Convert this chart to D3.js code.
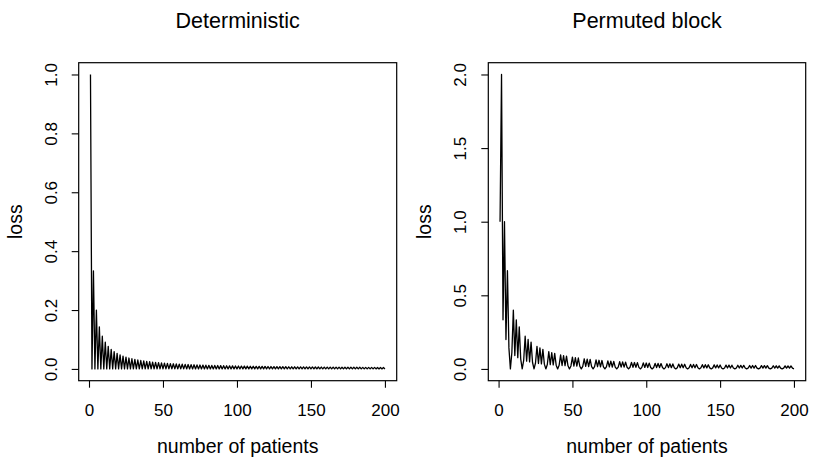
<!DOCTYPE html>
<html>
<head>
<meta charset="utf-8">
<script src="https://cdn.jsdelivr.net/npm/d3@7/dist/d3.min.js"></script>
<style>
  body { margin: 0; background: #fff; }
  svg { display: block; }
  text { font-family: "Liberation Sans", Arial, Helvetica, sans-serif; fill: #000; }
</style>
</head>
<body>
<svg id="chart" width="814" height="464"></svg>
<script>
// number of patients, 1..200
const patients = d3.range(1, 201);

// loss, deterministic allocation
const lossDeterministic = [
  1, 0, 0.3333, 0, 0.2, 0, 0.1429, 0, 0.1111, 0,
  0.0909, 0, 0.0769, 0, 0.0667, 0, 0.0588, 0, 0.0526, 0,
  0.0476, 0, 0.0435, 0, 0.04, 0, 0.037, 0, 0.0345, 0,
  0.0323, 0, 0.0303, 0, 0.0286, 0, 0.027, 0, 0.0256, 0,
  0.0244, 0, 0.0233, 0, 0.0222, 0, 0.0213, 0, 0.0204, 0,
  0.0196, 0, 0.0189, 0, 0.0182, 0, 0.0175, 0, 0.0169, 0,
  0.0164, 0, 0.0159, 0, 0.0154, 0, 0.0149, 0, 0.0145, 0,
  0.0141, 0, 0.0137, 0, 0.0133, 0, 0.013, 0, 0.0127, 0,
  0.0123, 0, 0.012, 0, 0.0118, 0, 0.0115, 0, 0.0112, 0,
  0.011, 0, 0.0108, 0, 0.0105, 0, 0.0103, 0, 0.0101, 0,
  0.0099, 0, 0.0097, 0, 0.0095, 0, 0.0093, 0, 0.0092, 0,
  0.009, 0, 0.0088, 0, 0.0087, 0, 0.0085, 0, 0.0084, 0,
  0.0083, 0, 0.0081, 0, 0.008, 0, 0.0079, 0, 0.0078, 0,
  0.0076, 0, 0.0075, 0, 0.0074, 0, 0.0073, 0, 0.0072, 0,
  0.0071, 0, 0.007, 0, 0.0069, 0, 0.0068, 0, 0.0067, 0,
  0.0066, 0, 0.0065, 0, 0.0065, 0, 0.0064, 0, 0.0063, 0,
  0.0062, 0, 0.0061, 0, 0.0061, 0, 0.006, 0, 0.0059, 0,
  0.0058, 0, 0.0058, 0, 0.0057, 0, 0.0056, 0, 0.0056, 0,
  0.0055, 0, 0.0055, 0, 0.0054, 0, 0.0053, 0, 0.0053, 0,
  0.0052, 0, 0.0052, 0, 0.0051, 0, 0.0051, 0, 0.005, 0
];

// loss, permuted block allocation
const lossPermuted = [
  1, 2, 0.3333, 1, 0.2, 0.6667, 0.1429, 0, 0.1111, 0.4,
  0.0909, 0.3333, 0.0769, 0.2857, 0.0667, 0, 0.0588, 0.2222, 0.0526, 0.2,
  0.0476, 0.1818, 0.0435, 0, 0.04, 0.1538, 0.037, 0.1429, 0.0345, 0.1333,
  0.0323, 0, 0.0303, 0.1176, 0.0286, 0.1111, 0.027, 0.1053, 0.0256, 0,
  0.0244, 0.0952, 0.0233, 0.0909, 0.0222, 0.087, 0.0213, 0, 0.0204, 0.08,
  0.0196, 0.0769, 0.0189, 0.0741, 0.0182, 0, 0.0175, 0.069, 0.0169, 0.0667,
  0.0164, 0.0645, 0.0159, 0, 0.0154, 0.0606, 0.0149, 0.0588, 0.0145, 0.0571,
  0.0141, 0, 0.0137, 0.0541, 0.0133, 0.0526, 0.013, 0.0513, 0.0127, 0,
  0.0123, 0.0488, 0.012, 0.0476, 0.0118, 0.0465, 0.0115, 0, 0.0112, 0.0444,
  0.011, 0.0435, 0.0108, 0.0426, 0.0105, 0, 0.0103, 0.0408, 0.0101, 0.04,
  0.0099, 0.0392, 0.0097, 0, 0.0095, 0.0377, 0.0093, 0.037, 0.0092, 0.0364,
  0.009, 0, 0.0088, 0.0351, 0.0087, 0.0345, 0.0085, 0.0339, 0.0084, 0,
  0.0083, 0.0328, 0.0081, 0.0323, 0.008, 0.0317, 0.0079, 0, 0.0078, 0.0308,
  0.0076, 0.0303, 0.0075, 0.0299, 0.0074, 0, 0.0073, 0.029, 0.0072, 0.0286,
  0.0071, 0.0282, 0.007, 0, 0.0069, 0.0274, 0.0068, 0.027, 0.0067, 0.0267,
  0.0066, 0, 0.0065, 0.026, 0.0065, 0.0256, 0.0064, 0.0253, 0.0063, 0,
  0.0062, 0.0247, 0.0061, 0.0244, 0.0061, 0.0241, 0.006, 0, 0.0059, 0.0235,
  0.0058, 0.0233, 0.0058, 0.023, 0.0057, 0, 0.0056, 0.0225, 0.0056, 0.0222,
  0.0055, 0.022, 0.0055, 0, 0.0054, 0.0215, 0.0053, 0.0213, 0.0053, 0.0211,
  0.0052, 0, 0.0052, 0.0206, 0.0051, 0.0204, 0.0051, 0.0202, 0.005, 0
];

const xTicks = [0, 50, 100, 150, 200];
const yTicksDeterministic = [0, 0.2, 0.4, 0.6, 0.8, 1.0];
const yTicksPermuted = [0, 0.5, 1.0, 1.5, 2.0];

const titles = ['Deterministic', 'Permuted block'];
const xLabel = 'number of patients';
const yLabel = 'loss';

const svg = d3.select('#chart');

const tickFont = 17,
    labFont = 19.5,
    mainFont = 21.5;

// R style 4% padding on both axes
function padded(lo, hi) {
    let d = (hi - lo) * 0.04;
    return [lo - d, hi + d];
}

function drawPanel(box, values, yMax, yTicks, title) {
    let x = d3.scaleLinear().domain(padded(1, 200)).range([box.left, box.right]),
        y = d3.scaleLinear().domain(padded(0, yMax)).range([box.bottom, box.top]),
        cx = (box.left + box.right) / 2,
        cy = (box.top + box.bottom) / 2,
        g = svg.append('g');

    let line = d3.line()
        .x((d, i) => x(patients[i]))
        .y(d => y(d));

    g.append('path')
        .datum(values)
        .attr('d', line)
        .attr('fill', 'none')
        .attr('stroke', '#000')
        .attr('stroke-width', 1.3)
        .attr('stroke-linejoin', 'round');

    // x axis
    let xAxis = g.append('g')
        .attr('transform', `translate(0, ${box.bottom})`)
        .call(d3.axisBottom(x).tickValues(xTicks).tickSize(7).tickSizeOuter(0).tickPadding(10));
    xAxis.select('.domain').remove();
    xAxis.selectAll('line').attr('stroke', '#000').attr('stroke-width', 1.1);
    xAxis.selectAll('text')
        .attr('font-size', tickFont)
        .attr('font-family', null)
        .attr('y', 29)
        .attr('dy', '0.35em');

    // y axis, labels parallel to axis
    let yAxis = g.append('g')
        .attr('transform', `translate(${box.left}, 0)`)
        .call(d3.axisLeft(y).tickValues(yTicks).tickFormat(d3.format('.1f')).tickSize(7).tickSizeOuter(0));
    yAxis.select('.domain').remove();
    yAxis.selectAll('line').attr('stroke', '#000').attr('stroke-width', 1.1);
    yAxis.selectAll('text')
        .attr('font-size', tickFont)
        .attr('font-family', null)
        .attr('text-anchor', 'middle')
        .attr('transform', 'rotate(-90)')
        .attr('x', 0)
        .attr('y', -28)
        .attr('dy', '0.35em');

    // box
    g.append('rect')
        .attr('x', box.left)
        .attr('y', box.top)
        .attr('width', box.right - box.left)
        .attr('height', box.bottom - box.top)
        .attr('fill', 'none')
        .attr('stroke', '#000')
        .attr('stroke-width', 1.2);

    g.append('text')
        .attr('x', cx)
        .attr('y', 446)
        .attr('dy', '0.35em')
        .attr('text-anchor', 'middle')
        .attr('font-size', labFont)
        .text(xLabel);

    g.append('text')
        .attr('transform', `translate(${box.left - 64}, ${cy}) rotate(-90)`)
        .attr('dy', '0.35em')
        .attr('text-anchor', 'middle')
        .attr('font-size', labFont)
        .text(yLabel);

    g.append('text')
        .attr('x', cx)
        .attr('y', 28)
        .attr('text-anchor', 'middle')
        .attr('font-size', mainFont)
        .text(title);
}

drawPanel({left: 78.7, right: 396.7, top: 62.7, bottom: 380.7},
    lossDeterministic, 1, yTicksDeterministic, titles[0]);
drawPanel({left: 488.3, right: 805.7, top: 62.7, bottom: 380.7},
    lossPermuted, 2, yTicksPermuted, titles[1]);
</script>
</body>
</html>
